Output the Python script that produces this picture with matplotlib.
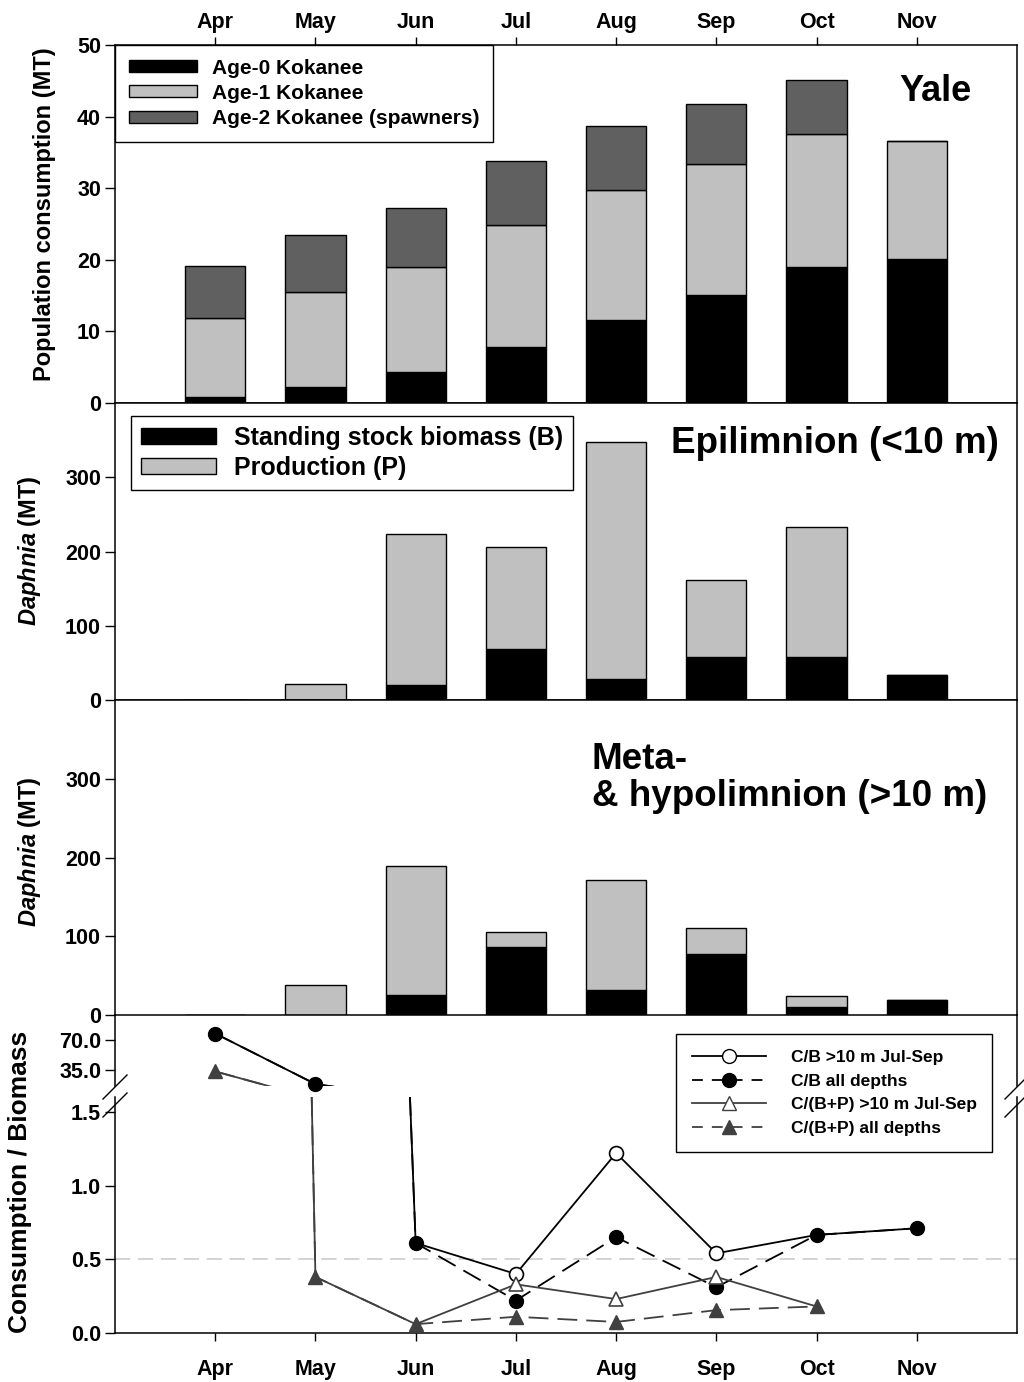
import numpy as np
import matplotlib
matplotlib.use('Agg')
import matplotlib.pyplot as plt
from matplotlib.lines import Line2D
from matplotlib.patches import Patch

plt.rcParams['font.family'] = ['Liberation Sans', 'DejaVu Sans']
plt.rcParams['font.weight'] = 'bold'
plt.rcParams['axes.labelweight'] = 'bold'
plt.rcParams['mathtext.fontset'] = 'custom'
plt.rcParams['mathtext.it'] = 'Liberation Sans:italic:bold'
plt.rcParams['mathtext.rm'] = 'Liberation Sans:bold'

# --- data ---
months = ['Apr', 'May', 'Jun', 'Jul', 'Aug', 'Sep', 'Oct', 'Nov']

# population consumption (MT), Yale
age0 = [0.8, 2.2, 4.3, 7.8, 11.6, 15.1, 19.0, 20.1]
age1 = [11.1, 13.3, 14.7, 17.1, 18.1, 18.3, 18.6, 16.5]
age2 = [7.2, 8.0, 8.2, 8.9, 9.0, 8.4, 7.5, 0.0]

# Daphnia epilimnion (<10 m)
epi_B = [0, 0, 20, 69, 28, 58, 58, 34]
epi_P = [0, 21.5, 203, 137, 319, 103, 175, 0]

# Daphnia meta- & hypolimnion (>10 m)
hyp_B = [0, 0, 25, 86, 32, 77, 10, 19]
hyp_P = [0, 38, 164, 20, 140, 34, 14, 0]

# consumption / biomass
nan = np.nan
cb_all = [78, 18, 0.61, 0.22, 0.65, 0.31, 0.665, 0.71]
cb_deep = [nan, nan, nan, 0.40, 1.22, 0.54, nan, nan]
cbp_all = [33, 0.38, 0.06, 0.11, 0.075, 0.155, 0.18, nan]
cbp_deep = [nan, nan, nan, 0.33, 0.23, 0.38, nan, nan]

x = np.arange(1, len(months) + 1)
cb_all = np.array(cb_all, dtype=float)
cb_deep = np.array(cb_deep, dtype=float)
cbp_all = np.array(cbp_all, dtype=float)
cbp_deep = np.array(cbp_deep, dtype=float)
cb_path = np.where(np.isnan(cb_deep), cb_all, cb_deep)
cbp_path = np.where(np.isnan(cbp_deep), cbp_all, cbp_deep)

# --- layout (pixel based) ---
W, H = 1024, 1382
fig = plt.figure(figsize=(W / 100, H / 100), dpi=100)
LEFT, RIGHT = 115, 1017


def rect(top, bottom):
    return [LEFT / W, 1 - bottom / H, (RIGHT - LEFT) / W, (bottom - top) / H]


ax1 = fig.add_axes(rect(45, 403))
ax2 = fig.add_axes(rect(403, 700))
ax3 = fig.add_axes(rect(700, 1015))
ax4u = fig.add_axes(rect(1015, 1086))
ax4 = fig.add_axes(rect(1097, 1333))

TICK_FS = 15.5
bw = 0.6
ek = dict(edgecolor='black', linewidth=1.0)
c_age0, c_age1, c_age2 = 'black', '#c0c0c0', '#606060'

for ax in (ax1, ax2, ax3, ax4u, ax4):
    ax.set_xlim(0, 9)
    ax.tick_params(axis='y', direction='out', length=7, width=1, labelsize=TICK_FS, pad=3)
    for s in ax.spines.values():
        s.set_linewidth(1.1)

# panel 1: kokanee consumption
b0 = np.array(age0)
b1 = b0 + np.array(age1)
ax1.bar(x, age0, bw, color=c_age0, **ek)
ax1.bar(x, age1, bw, bottom=b0, color=c_age1, **ek)
ax1.bar(x, age2, bw, bottom=b1, color=c_age2, **ek)
ax1.set_ylim(0, 50)
ax1.set_yticks([0, 10, 20, 30, 40, 50])
ax1.xaxis.tick_top()
ax1.set_xticks(x)
ax1.set_xticklabels(months, fontsize=TICK_FS, fontweight='bold')
ax1.tick_params(axis='x', direction='out', length=6, width=1, pad=3)
ax1.text(0.95, 0.87, 'Yale', transform=ax1.transAxes, ha='right', va='center',
         fontsize=26, fontweight='bold')
h1 = [Patch(facecolor=c_age0, edgecolor='black', label='Age-0 Kokanee'),
      Patch(facecolor=c_age1, edgecolor='black', label='Age-1 Kokanee'),
      Patch(facecolor=c_age2, edgecolor='black', label='Age-2 Kokanee (spawners)')]
leg1 = ax1.legend(handles=h1, loc='upper left', borderaxespad=0, fontsize=15,
                  handlelength=3.3, handleheight=0.5, handletextpad=0.7,
                  labelspacing=0.3, borderpad=0.65, fancybox=False, framealpha=1)
leg1.get_frame().set_edgecolor('black')
leg1.get_frame().set_linewidth(1)
fig.text(45 / W, 1 - 214 / H, 'Population consumption (MT)', rotation=90,
         ha='center', va='center', fontsize=17, fontweight='bold')

# panels 2, 3: Daphnia
for ax, B, P in ((ax2, epi_B, epi_P), (ax3, hyp_B, hyp_P)):
    ax.bar(x, B, bw, color='black', **ek)
    ax.bar(x, P, bw, bottom=B, color='#c0c0c0', **ek)
    ax.set_ylim(0, 400)
    ax.set_yticks([0, 100, 200, 300])
    ax.set_xticks([])

ax2.text(0.98, 0.865, 'Epilimnion (<10 m)', transform=ax2.transAxes, ha='right',
         va='center', fontsize=26.5, fontweight='bold')
h2 = [Patch(facecolor='black', edgecolor='black', label='Standing stock biomass (B)'),
      Patch(facecolor='#c0c0c0', edgecolor='black', label='Production (P)')]
leg2 = ax2.legend(handles=h2, loc='upper left', bbox_to_anchor=(16 / 902, 1 - 13 / 297),
                  borderaxespad=0, fontsize=18, handlelength=3.0, handleheight=0.6,
                  handletextpad=0.7, labelspacing=0.25, borderpad=0.4, fancybox=False,
                  framealpha=1)
leg2.get_frame().set_edgecolor('black')
leg2.get_frame().set_linewidth(1)

ax3.text((592 - LEFT) / 902, 1 - 78 / 315, 'Meta-\n& hypolimnion (>10 m)',
         transform=ax3.transAxes, ha='left', va='center', fontsize=26.5,
         fontweight='bold', linespacing=1.1)

for yc in (551, 852):
    fig.text(30 / W, 1 - yc / H, r'$Daphnia$ (MT)', rotation=90, ha='center',
             va='center', fontsize=17, fontweight='bold')

# panel 4: consumption / biomass (broken axis)
grey = '#404040'
ax4u.set_ylim(15.7, 100)
ax4u.set_yticks([35, 70])
ax4u.set_yticklabels(['35.0', '70.0'])
ax4u.set_xticks([])
ax4u.spines['top'].set_visible(False)
ax4u.spines['bottom'].set_visible(False)
ax4u.patch.set_alpha(0)

ax4.set_ylim(0, 1.6)
ax4.set_yticks([0, 0.5, 1.0, 1.5])
ax4.set_yticklabels(['0.0', '0.5', '1.0', '1.5'])
ax4.spines['top'].set_visible(False)
ax4.set_xticks(x)
ax4.set_xticklabels(months, fontsize=TICK_FS, fontweight='bold')
ax4.tick_params(axis='x', direction='out', length=6, width=1, pad=13)
ax4.axhline(0.5, color='#c8c8c8', lw=1.1, ls=(0, (10, 5)), zorder=0)

dash = (0, (11, 5))
for ax in (ax4u, ax4):
    ax.plot(x, cb_path, color='black', lw=1.3, zorder=2)
    ax.plot(x, cb_all, color='black', lw=1.3, ls=dash, zorder=2)
    ax.plot(x, cbp_path, color=grey, lw=1.3, zorder=2)
    ax.plot(x, cbp_all, color=grey, lw=1.3, ls=dash, zorder=2)

mk = dict(ls='none', markersize=10, zorder=4)
# lower axes markers
ax4.plot(x, cb_all, marker='o', mfc='black', mec='black', **mk)
ax4.plot(x, cb_deep, marker='o', mfc='white', mec='black', mew=1.2, **mk)
ax4.plot(x, cbp_all, marker='^', mfc=grey, mec=grey, **mk)
ax4.plot(x, cbp_deep, marker='^', mfc='white', mec=grey, mew=1.2, **mk)
# upper axes markers (only the large values, not clipped)
hi = ax4u.get_ylim()[0] - 5
ax4u.plot(x, np.where(cb_all > hi, cb_all, nan), marker='o', mfc='black', mec='black',
          clip_on=False, **mk)
ax4u.plot(x, np.where(cbp_all > hi, cbp_all, nan), marker='^', mfc=grey, mec=grey,
          clip_on=False, **mk)

h4 = [Line2D([], [], color='black', lw=1.3, marker='o', mfc='white', mec='black', ms=10,
             label='C/B >10 m Jul-Sep'),
      Line2D([], [], color='black', lw=1.3, ls=(0, (6, 5)), marker='o', mfc='black',
             mec='black', ms=10, label='C/B all depths'),
      Line2D([], [], color=grey, lw=1.3, marker='^', mfc='white', mec=grey, ms=10,
             label='C/(B+P) >10 m Jul-Sep'),
      Line2D([], [], color=grey, lw=1.3, ls=(0, (6, 5)), marker='^', mfc=grey, mec=grey,
             ms=10, label='C/(B+P) all depths')]
leg4 = fig.legend(handles=h4, loc='upper left', bbox_to_anchor=(676 / W, 1 - 1034 / H),
                  fontsize=12.5, handlelength=4.3, handletextpad=1.4, labelspacing=0.5,
                  borderpad=0.9, fancybox=False, framealpha=1, borderaxespad=0)
leg4.get_frame().set_edgecolor('black')
leg4.get_frame().set_linewidth(1)

fig.text(20 / W, 1 - 1182 / H, 'Consumption / Biomass', rotation=90, ha='center',
         va='center', fontsize=19, fontweight='bold')

# axis-break marks
for x0 in (103, 1005):
    for y0 in (1099, 1117):
        fig.add_artist(Line2D([x0 / W, (x0 + 24) / W], [1 - y0 / H, 1 - (y0 - 24) / H],
                              transform=fig.transFigure, color='black', lw=1))

fig.savefig('out.png', dpi=100, facecolor='white')
